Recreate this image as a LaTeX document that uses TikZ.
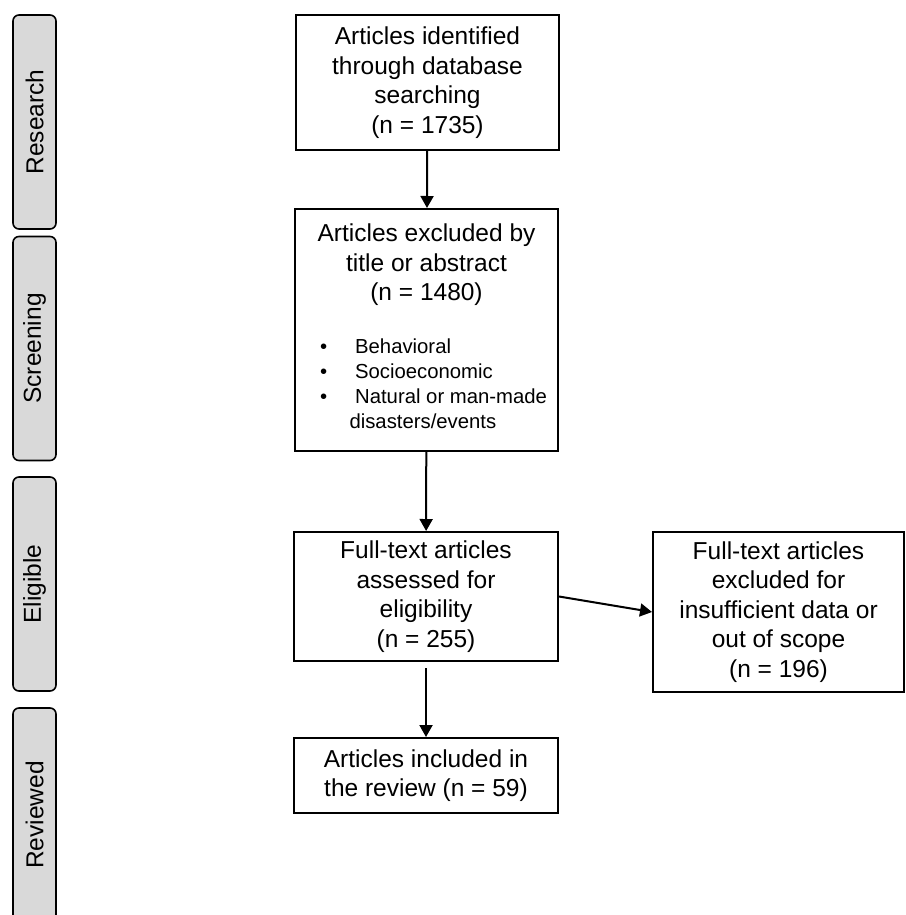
\documentclass[tikz,border=0pt]{standalone}
\usepackage{fontspec}
\setmainfont{Liberation Sans}
\usetikzlibrary{arrows.meta}
\definecolor{cTab}{RGB}{217,217,217}

\begin{document}
\begin{tikzpicture}[
  x=1pt,y=-1pt,
  >={Triangle[length=12pt,width=13pt]},
  % flow boxes, sized so they sit where the reference has them
  box/.style={draw,line width=2pt,align=center,inner sep=4pt,
              font=\fontsize{24.5pt}{29.5pt}\selectfont},
  tab/.style={draw,line width=1.6pt,fill=cTab,rounded corners=6pt,rotate=90,
              minimum height=43pt,inner sep=0pt,
              font=\fontsize{24.5pt}{29.5pt}\selectfont},
  arr/.style={->,line width=2pt},
]
\useasboundingbox (0,0) rectangle (905,915);

% ------------------------------------------------------------ stage tabs
\node[tab,minimum width=214pt] (tres)  at (34.5,122)   {Research};
\node[tab,minimum width=224pt] (tscr)  at (34.5,348.5) {Screening};
\node[tab,minimum width=214pt] (telig) at (34.5,584)   {Eligible};
\node[tab,minimum width=214pt] (trev)  at (34.5,815)   {Reviewed};

% ------------------------------------------------------------ main column
\node[box,minimum width=263pt,minimum height=135pt] (ident) at (427.5,82.5)
      {Articles identified\\through database\\searching\\(n = 1735)};
\node[box,minimum width=263pt,minimum height=242pt] (abst) at (426.5,330)
      {Articles excluded by\\title or abstract\\(n = 1480)\\[23.5pt]
       \hspace*{14pt}{\fontsize{20.3pt}{25pt}\selectfont
       \begin{tabular}[t]{@{}l@{\hspace{28pt}}l@{}}
         \textbullet & Behavioral\\
         \textbullet & Socioeconomic\\
         \textbullet & Natural or man-made\\
         \multicolumn{2}{@{\hspace{29.5pt}}l@{}}{disasters/events}
       \end{tabular}}};
\node[box,minimum width=264pt,minimum height=129pt] (full) at (426,596.5)
      {Full-text articles\\assessed for\\eligibility\\(n = 255)};
\node[box,minimum width=264pt,minimum height=75pt]  (incl) at (426,775.5)
      {Articles included in\\the review (n = 59)};

% ------------------------------------------------------------ side exclusion
\node[box,minimum width=251pt,minimum height=160pt] (drop) at (778.5,612)
      {Full-text articles\\excluded for\\insufficient data or\\out of scope\\(n = 196)};

% ------------------------------------------------------------ flow
\draw[arr] (ident) -- (abst);
\draw[arr] (abst)  -- (full);
\draw[arr] ([yshift=-6pt]full.south) -- (incl);
\draw[arr] (full.east) -- (drop.west);

\end{tikzpicture}
\end{document}
